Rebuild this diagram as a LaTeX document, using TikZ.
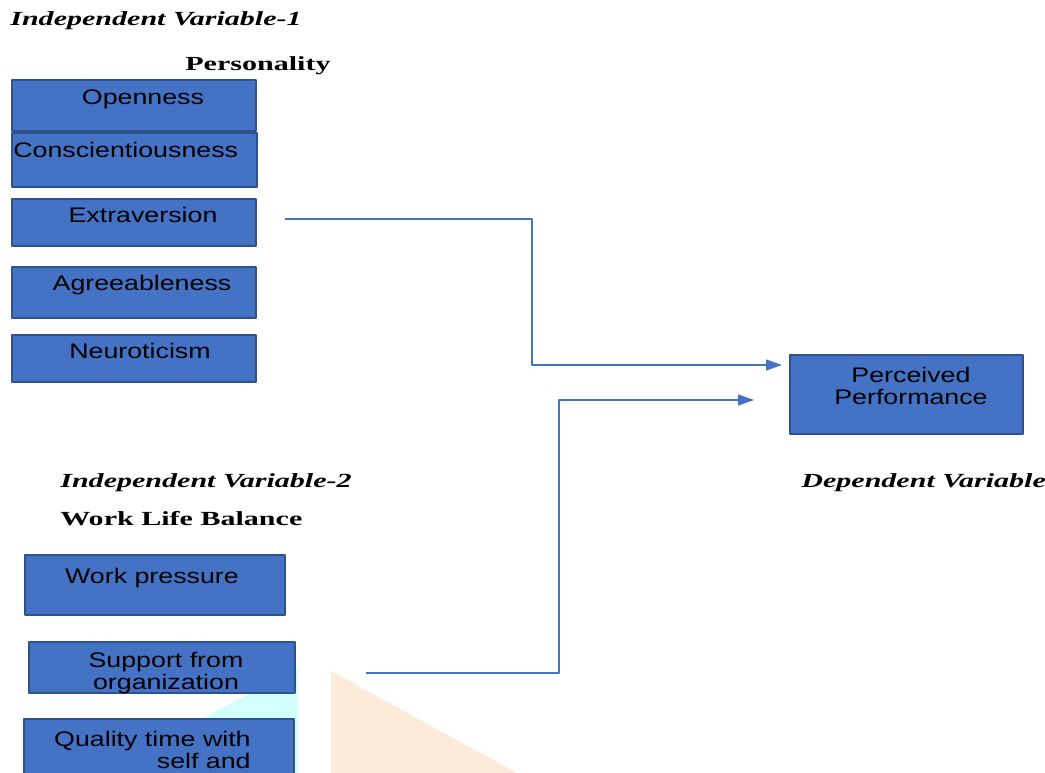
\documentclass[tikz,border=0pt]{standalone}
\usepackage{fontspec}
\setmainfont{Liberation Serif}
\newfontfamily\hopfont[FakeStretch=1.27]{Liberation Sans}
\newfontfamily\tieudefont[FakeStretch=1.5]{Liberation Serif}
\usetikzlibrary{arrows.meta}
\definecolor{xanhhop}{HTML}{4472C4}
\definecolor{vienhop}{HTML}{2F528F}
\definecolor{camnhat}{HTML}{FDEBD9}
\definecolor{xanhnhat}{HTML}{D2FFFF}
\tikzset{
	hop/.style={draw=vienhop, fill=xanhhop, line width=0.9pt, anchor=north west, inner sep=0pt},
	chu/.style={font=\hopfont\fontsize{12}{12.5}\selectfont, align=center, inner sep=0pt},
	tieude/.style={font=\tieudefont\fontsize{11.4}{13}\selectfont\bfseries\itshape, anchor=base west, inner sep=0pt},
	ten/.style={font=\tieudefont\fontsize{11.4}{13}\selectfont\bfseries, anchor=base west, inner sep=0pt},
	mui/.style={draw=xanhhop, line width=0.7pt, -{Triangle[length=3.2mm,width=2.2mm]}}
}
\begin{document}
\begin{tikzpicture}[x=0.02cm, y=-0.02cm, line join=round]
				\useasboundingbox (0,0) rectangle (1045,773);
				% Nền phía dưới
				\fill[xanhnhat] (298,668) -- (298,773) -- (99,773) -- cycle;
				\fill[camnhat] (331,671) -- (517,773) -- (331,773) -- cycle;
				% Tiêu đề
				\node[tieude] (iv1) at (10,26) {Independent Variable-1};
				\node[ten] (per) at (185,71) {Personality};
				\node[tieude] (iv2) at (60,488) {Independent Variable-2};
				\node[ten] (wlb) at (60,525) {Work Life Balance};
				\node[tieude] (dv) at (801,488) {Dependent Variable};
				% Các hộp biến độc lập 1
				\node[hop, minimum width=4.88cm, minimum height=1.02cm] (open) at (11,79) {};
				\node[hop, minimum width=4.90cm, minimum height=1.08cm] (cons) at (11,132) {};
				\node[hop, minimum width=4.88cm, minimum height=0.94cm] (extr) at (11,198) {};
				\node[hop, minimum width=4.88cm, minimum height=1.02cm] (agre) at (11,266) {};
				\node[hop, minimum width=4.88cm, minimum height=0.94cm] (neur) at (11,334) {};
				\node[chu, anchor=base] (topen) at (143,105) {Openness};
				\node[chu, anchor=base west] (tcons) at (13,158) {Conscientiousness};
				\node[chu, anchor=base] (textr) at (143,223) {Extraversion};
				\node[chu, anchor=base] (tagre) at (142,291) {Agreeableness};
				\node[chu, anchor=base] (tneur) at (140,359) {Neuroticism};
				% Các hộp biến độc lập 2
				\node[hop, minimum width=5.20cm, minimum height=1.20cm] (work) at (24,554) {};
				\node[hop, minimum width=5.32cm, minimum height=1.02cm] (supp) at (28,641) {};
				\node[hop, minimum width=5.40cm, minimum height=1.20cm] (qual) at (23,718) {};
				\node[chu, anchor=base] (twork) at (152,583) {Work pressure};
				\node[chu] (tsupp) at (166,673) {Support from\\organization};
				\node[chu, align=right, anchor=east] (tqual) at (251,750) {Quality time with\\self and};
				% Biến phụ thuộc
				\node[hop, minimum width=4.66cm, minimum height=1.58cm] (perf) at (789,354) {};
				\node[chu] (tperf) at (911,386) {Perceived\\Performance};
				% Mũi tên
				\coordinate (a1) at (285,219);
				\coordinate (k1) at (532,365);
				\coordinate (b1) at (782,365);
				\coordinate (a2) at (366,673);
				\coordinate (k2) at (559,400);
				\coordinate (b2) at (754,400);
				\draw[mui] (a1) -| (k1) -- (b1);
				\draw[mui] (a2) -| (k2) -- (b2);
			\end{tikzpicture}
\end{document}
